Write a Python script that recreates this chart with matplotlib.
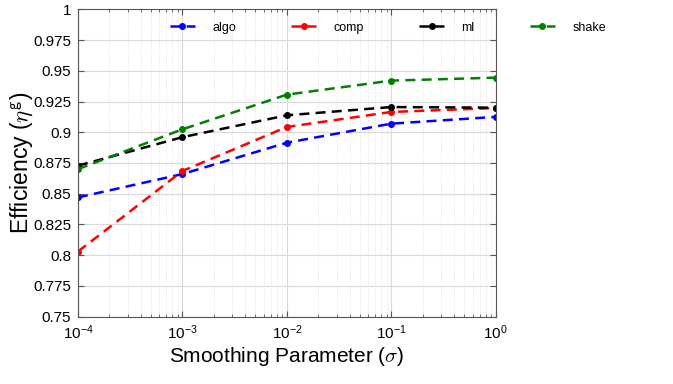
import matplotlib
matplotlib.use("Agg")
import matplotlib.pyplot as plt
import numpy as np
from matplotlib.ticker import FixedLocator, FuncFormatter, LogLocator, NullFormatter

plt.rcParams['font.family'] = ['Liberation Sans', 'DejaVu Sans']
plt.rcParams['mathtext.fontset'] = 'cm'

sigma = [1e-4, 1e-3, 1e-2, 1e-1, 1e0]
algo = [0.847, 0.866, 0.8915, 0.907, 0.9125]
comp = [0.803, 0.8685, 0.9043, 0.9165, 0.9197]
ml = [0.8728, 0.896, 0.9138, 0.9205, 0.920]
shake = [0.870, 0.9024, 0.9306, 0.942, 0.9444]
series = [("algo", algo, (0, 0, 1)), ("comp", comp, (1, 0, 0)),
          ("ml", ml, (0, 0, 0)), ("shake", shake, (0, 0.5, 0))]
yticks = [0.75, 0.775, 0.8, 0.825, 0.85, 0.875, 0.9, 0.925, 0.95, 0.975, 1.0]

fig = plt.figure(figsize=(6.73, 3.84), dpi=100)
ax = fig.add_axes([0.1159, 0.1753, 0.6207, 0.8005])

for name, vals, col in series:
    ax.plot(sigma, vals, linestyle=(0, (4, 2.5)), color=col, lw=1.8,
            marker='o', markersize=4, label=name)

ax.set_xscale('log')
ax.set_xlim(1e-4, 1)
ax.set_ylim(0.75, 1.0)
ax.yaxis.set_major_locator(FixedLocator(yticks))
ax.yaxis.set_major_formatter(FuncFormatter(lambda v, p: ('%g' % round(v, 4))))
ax.xaxis.set_major_locator(LogLocator(base=10, numticks=10))
ax.xaxis.set_minor_locator(LogLocator(base=10, subs=np.arange(2, 10), numticks=50))
ax.xaxis.set_minor_formatter(NullFormatter())

ax.grid(True, which='major', color='#d9d9d9', lw=0.8)
ax.grid(True, which='minor', axis='x', color='#dcdcdc', lw=0.6, linestyle=':')
ax.set_axisbelow(True)
for s in ax.spines.values():
    s.set_color('#555555')
    s.set_linewidth(0.8)
ax.tick_params(which='both', direction='in', top=True, right=True, color='#555555')
ax.tick_params(which='major', length=4, labelsize=11, pad=5)
ax.tick_params(which='minor', length=2)

ax.set_xlabel(r'Smoothing Parameter ($\sigma$)', fontsize=15, labelpad=2)
ax.set_ylabel(r'Efficiency ($\eta^{\mathsf{g}}$)', fontsize=16.5)
ax.yaxis.set_label_coords(-0.103, 0.5)

ax.legend(loc='center left', ncol=4, frameon=False, fontsize=9,
          bbox_to_anchor=(0.22, 0.94), borderaxespad=0, borderpad=0,
          columnspacing=4.4, handlelength=2.0, handletextpad=1.4)

fig.savefig("out.png", dpi=100)
